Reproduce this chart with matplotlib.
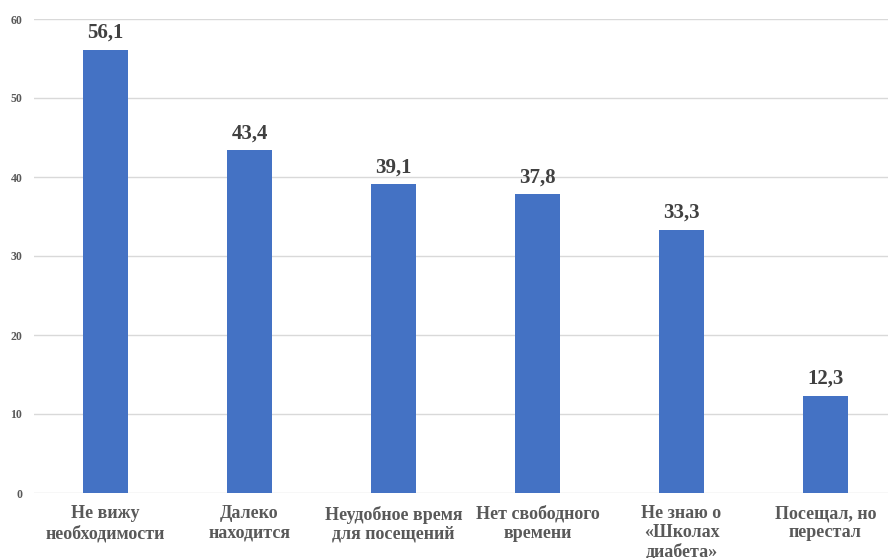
import matplotlib.pyplot as plt

categories = ['Не вижу\nнеобходимости', 'Далеко\nнаходится', 'Неудобное время\nдля посещений',
              'Нет свободного\nвремени', 'Не знаю о\n«Школах\nдиабета»', 'Посещал, но\nперестал']
values = [56.1, 43.4, 39.1, 37.8, 33.3, 12.3]
yticks = [0, 10, 20, 30, 40, 50, 60]

plt.rcParams['font.family'] = ['Liberation Serif', 'DejaVu Serif']
plt.rcParams['font.weight'] = 'bold'

fig = plt.figure(figsize=(8.88, 5.58), dpi=100)
ax = fig.add_axes([33.5 / 888, 65 / 558, 864 / 888, 474 / 558])

x = range(len(values))
bars = ax.bar(x, values, width=0.31, color='#4472C4', zorder=3)
for b, v in zip(bars, values):
    ax.annotate(f'{v:.1f}'.replace('.', ','), (b.get_x() + b.get_width() / 2, v),
                xytext=(0, 5), textcoords='offset points', ha='center', va='bottom',
                fontsize=15, fontweight='bold', color='#404040')

ax.set_xlim(-0.5, 5.5)
ax.set_ylim(0, 60)
ax.set_yticks(yticks)
ax.set_xticks(list(x))
ax.set_xticklabels(categories, fontsize=13, fontweight='bold', color='#595959',
                   va='top', linespacing=1.15)
ax.tick_params(axis='x', length=0, pad=9)
ax.tick_params(axis='y', length=0, pad=8, labelsize=8.5, labelcolor='#595959')
ax.grid(axis='y', color='#d9d9d9', lw=1, zorder=0)
for s in ax.spines.values():
    s.set_visible(False)

fig.savefig('out.png', dpi=100)
